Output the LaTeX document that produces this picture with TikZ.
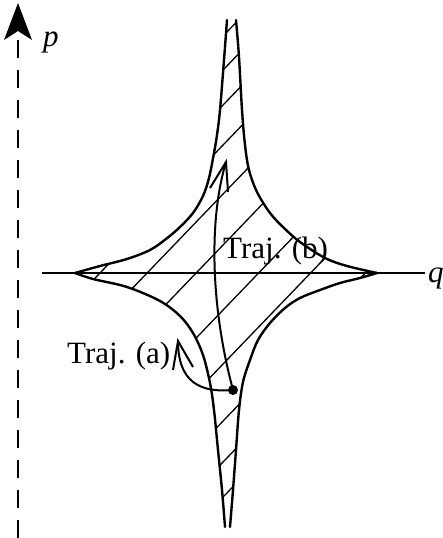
\documentclass[tikz,border=0pt]{standalone}
\usepackage{fontspec}
\setmainfont{Liberation Serif}
\begin{document}
\begin{tikzpicture}[x=1pt,y=-1pt,
  bnd/.style={line width=2.4pt, line join=round, line cap=round},
  hatch/.style={line width=1.3pt},
  traj/.style={line width=2pt, line join=miter},
  axisline/.style={line width=1.8pt},
  lbl/.style={inner sep=0pt, anchor=base west, font=\fontsize{31}{36}\selectfont}]
\useasboundingbox (0,0) rectangle (443,538);
% p axis
\coordinate (ptop) at (18,3);
\coordinate (pbot) at (18,538);
\coordinate (pbase) at (18,34);
\draw[line width=2pt, dash pattern=on 18pt off 12pt] (pbot) -- (pbase);
\fill (ptop) -- (32,40) -- (18,31) -- (4,40) -- cycle;
% q axis
\coordinate (qs) at (42,273);
\coordinate (qe) at (425,273);
\draw[axisline] (qs) -- (qe);
% labels
\node[lbl] (plabel) at (43,46) {\textit{p}};
\node[lbl] (qlabel) at (428,282) {\textit{q}};
\node[lbl] (traja) at (67,363) {Traj. (a)};
\node[lbl] (trajb) at (223,258) {Traj. (b)};
% hatching
\begin{scope}
\clip plot[smooth,tension=0.55] coordinates {(227,20) (224,60) (220,110) (217,135) (214,153) (209,178) (203,196) (193,213) (180,227) (166,239) (150,250) (127,259) (100,266) (75,273)}
 -- plot[smooth,tension=0.55] coordinates {(75,273) (93,279) (127,287) (160,301) (180,316) (193,333) (203,355) (210,383) (214,410) (218,450) (222,490) (225,527)}
 -- plot[smooth,tension=0.55] coordinates {(230,527) (233,490) (236,450) (239,410) (243,382) (250,360) (258,340) (270,323) (285,308) (300,298) (320,290) (340,283) (360,278) (377,273)}
 -- plot[smooth,tension=0.55] coordinates {(377,273) (347,266) (325,258) (300,242) (284,228) (270,213) (257,192) (249,170) (245,145) (242,110) (239,57) (236,20)}
 -- cycle;
\foreach \b in {268,302,337,377,426,477,542,596,653,694,729}
  \draw[hatch] (60,{\b-62.4}) -- (420,{\b-436.8});
\end{scope}
% star boundary
\draw[bnd] plot[smooth,tension=0.55] coordinates {(227,20) (224,60) (220,110) (217,135) (214,153) (209,178) (203,196) (193,213) (180,227) (166,239) (150,250) (127,259) (100,266) (75,273)};
\draw[bnd] plot[smooth,tension=0.55] coordinates {(75,273) (93,279) (127,287) (160,301) (180,316) (193,333) (203,355) (210,383) (214,410) (218,450) (222,490) (225,527)};
\draw[bnd] plot[smooth,tension=0.55] coordinates {(236,20) (239,57) (242,110) (245,145) (249,170) (257,192) (270,213) (284,228) (300,242) (325,258) (347,266) (377,273)};
\draw[bnd] plot[smooth,tension=0.55] coordinates {(377,273) (360,278) (340,283) (320,290) (300,298) (285,308) (270,323) (258,340) (250,360) (243,382) (239,410) (236,450) (233,490) (230,527)};
% trajectories
\node[circle, fill, inner sep=0pt, minimum size=10pt] (dot) at (233,390) {};
\coordinate (tipb) at (226,162);
\coordinate (bbl) at (210,188);
\coordinate (bbr) at (228,192);
\coordinate (tipa) at (178,341);
\coordinate (abl) at (173,370);
\coordinate (abr) at (193,367);
\draw[traj] (dot.center) .. controls (209,300) and (210,215) .. (tipb);
\draw[traj] (bbl) -- (tipb) -- (bbr);
\draw[traj] (dot.center) .. controls (200,393) and (178,382) .. (tipa);
\draw[traj] (abl) -- (tipa) -- (abr);
\end{tikzpicture}
\end{document}
